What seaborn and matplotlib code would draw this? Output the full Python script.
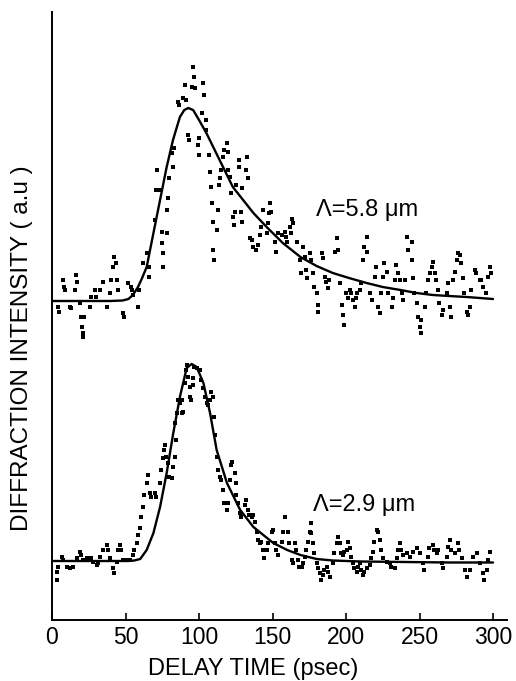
import matplotlib
matplotlib.use("Agg")
import matplotlib.pyplot as plt
import seaborn as sns
import pandas as pd

# ---------------- data (delay time in psec, intensity in arbitrary units) ----------------
# Lambda = 5.8 um : measured points
up_x = [4.3, 4.5, 7.7, 8.4, 9, 12.2, 13, 15.6, 16.3, 17, 19, 19.7, 20.4, 21, 21.3, 21.8, 25.9, 26.8,
        29.3, 30, 32.7, 34.9, 37.2, 39.5, 40.1, 41.7, 42.4, 43.5, 44.2, 44.9, 48.5, 49, 51.9, 53.7,
        54.3, 55, 58.7, 59.4, 62.1, 64.4, 65.8, 66.3, 70, 70.7, 71.2, 72, 73.5, 74.6, 75, 75.7, 75.4,
        78, 78.3, 79, 79.8, 81.4, 82, 83, 86, 86.5, 89.3, 90.5, 91, 92.7, 93, 95, 96, 96.5, 97.2, 99.5,
        99.8, 100, 101.8, 103, 103.4, 104.5, 104.8, 107, 107.3, 108.2, 108.5, 109.3, 109.8, 110.5,
        112.5, 113, 113.7, 114.3, 115, 116.5, 117, 118.8, 119.5, 119.8, 121, 121.8, 123.3, 124,
        124.7, 125.3, 127, 127.5, 128.3, 129, 129.5, 132, 132.5, 133.5, 134.7, 135.8, 136.5, 139,
        139.8, 141.5, 142.3, 143.7, 146, 146.8, 147.5, 148.3, 149, 151.7, 152.5, 154, 156.3, 158.5,
        159.3, 160, 162, 162.6, 163.3, 164, 166.5, 168.7, 169.5, 171, 171.8, 173, 173.7, 175.5, 176.2,
        177.7, 178.3, 180, 180.6, 181, 183.5, 184, 185.7, 186.3, 188, 188.5, 192.5, 193.7, 194.5, 196,
        197, 197.8, 198.6, 200, 201.5, 202.7, 203.4, 204.5, 206, 206.8, 207.8, 209.5, 210, 211.8,
        212.5, 214, 214.5, 216.3, 217.8, 219.7, 220.5, 222, 223, 224, 225.4, 226, 227.7, 228.5, 231,
        232, 233.3, 234, 235.6, 236.5, 238, 239, 240, 241.3, 242, 244.7, 245, 245.8, 246.5, 248, 249,
        250.3, 251, 251.2, 253.7, 254.5, 256, 257, 258.3, 259.3, 260.5, 261, 262.8, 263.5, 265, 265.8,
        268.5, 269.5, 270.7, 271.5, 273, 274, 275.3, 276, 277.6, 278.5, 279.8, 280.5, 282, 283, 284.4,
        285, 287.8, 288.5, 291, 292, 293.4, 295.5, 296.8, 298, 298.8]
up_y = [313, 308, 340, 333, 330, 313, 312, 330, 345, 338, 317, 303, 293, 287, 283, 303, 313, 323,
        330, 323, 330, 338, 313, 327, 340, 353, 363, 357, 340, 330, 307, 303, 337, 333,
        330, 325, 313, 330, 357, 367, 343, 353, 400, 430, 450, 430, 430, 388, 377, 367, 353,
        387, 410, 422, 442, 467, 453, 472, 518, 515, 522, 535, 520, 485, 480, 533, 553, 543, 532, 475,
        465, 482, 507, 537, 525, 500, 490, 465, 448, 433, 417, 398, 370, 360,
        390, 410, 435, 442, 450, 463, 470, 477, 468, 450, 443, 427, 403, 395,
        408, 435, 453, 460, 408, 398, 432, 450, 463, 442, 382, 380, 373, 370,
        375, 385, 393, 410, 387, 397, 407, 417, 408, 378, 368, 387, 385, 388,
        383, 378, 393, 387, 401, 397, 378, 360, 347, 373, 363, 350, 342, 367, 360,
        347, 333, 327, 315, 308, 367, 362, 343, 338, 332, 340, 368, 382, 370, 337,
        315, 305, 295, 327, 322, 330, 327, 320, 313, 322, 327, 330, 337, 360,
        373, 383, 368, 327, 320, 343, 353, 313, 307, 327, 343, 357, 348, 327, 313,
        322, 340, 355, 347, 340, 327, 320, 340, 383, 370, 378, 360, 342, 327, 317, 303,
        293, 287, 300, 313, 327, 340, 347, 353, 358, 347, 340, 330, 317, 305, 310,
        327, 337, 313, 303, 340, 348, 360, 367, 365, 357, 342, 327, 308, 305, 313,
        330, 350, 347, 340, 340, 333, 327, 343, 353, 347]

# Lambda = 5.8 um : fitted curve
up_fit_x = [0, 20, 40, 48, 52, 55, 58.5, 61, 64.4, 69, 73.5, 78, 82.3, 87, 90, 92.7, 96, 100, 105,
            114, 123, 137, 146, 157, 169, 180, 191, 202, 214, 225, 237, 248, 259, 270, 282, 291, 300]
up_fit_y = [319, 319, 319, 319.5, 321, 325, 333, 341, 353, 387, 420, 453, 480, 503, 510, 512, 510,
            500, 487, 460, 433, 407, 393, 377, 363, 354, 347, 342, 337, 333, 330, 327, 325, 324,
            323, 322, 321]

# Lambda = 2.9 um : measured points
lo_x = [3.2, 3.4, 4, 6.6, 7.3, 10, 12.2, 14.5, 16.8, 19, 19.7, 21.3, 23.6, 25.9, 26.6, 28, 30.4,
        31, 32.7, 34.9, 37.2, 37.9, 39.5, 41.7, 42.4, 44, 44.7, 46.3, 47, 48.5, 50.8, 53, 55.3,
        56, 57.6, 58.3, 59.9, 60.6, 62.1, 62.8, 64.4, 65.1, 66.7, 67.4, 70, 70.7, 73.5, 74.2, 75.3,
        76, 76.9, 77.6, 79, 79.7, 81.4, 82, 83.7, 84.2, 84, 84.8, 86, 86.8, 88.2, 88.8, 88.6,
        90.5, 91, 91.6, 92.3, 93.9, 94, 94.5, 96, 96.2, 96.8, 98.4, 100.7, 101.5, 103, 103.8,
        105.2, 105.9, 107.5, 108.2, 109.8, 110.5, 110.9, 112, 112.7, 114.3, 115, 116.5, 117.2,
        118.8, 119.5, 121, 121.8, 122.5, 124.5, 125.2, 125.5, 126.7, 127.9, 128.6, 131.3, 132,
        133.5, 134.2, 135.8, 136.5, 138, 139.3, 140, 141.5, 142.2, 143.7, 144.4, 146, 146.7,
        149.4, 150, 151.7, 152.4, 154, 156.2, 156.9, 158.5, 160.7, 161.4, 163, 163.7, 165.3, 166,
        167.5, 168.2, 169.8, 170.5, 172, 172.7, 174.4, 175.5, 175.9, 176.3, 177.7, 178.4, 180,
        180.7, 182.3, 183, 184.6, 185.3, 186.9, 187.6, 189, 191.4, 192.1, 193.7, 194.4, 196,
        196.7, 198.2, 198.9, 200.5, 201.2, 202.7, 203.4, 205, 205.7, 207.3, 208, 209.5, 210.2,
        211.8, 212.5, 214, 216.3, 217, 218.6, 219.3, 221, 221.7, 223, 223.7, 225.4, 227.7, 230,
        230.7, 233.3, 234.5, 235.2, 236.7, 237.4, 239, 241.3, 243.5, 245.8, 248, 250.3, 252.5,
        253.2, 256, 256.7, 259.4, 260.1, 261.7, 262.4, 265, 265.7, 268.5, 269.2, 270.7, 271.4,
        274, 276.4, 277.1, 278.7, 281, 282, 284.4, 286.6, 289, 291, 293.4, 294.1, 295.7, 296.4, 298]
lo_y = [40, 48, 53, 63, 60, 53, 52, 53, 62, 68, 65, 60, 62, 60, 62, 58, 55,
        57, 63, 70, 75, 70, 62, 52, 47, 58, 70, 75, 70, 60, 60, 60, 65,
        70, 77, 85, 92, 103, 113, 125, 137, 145, 127, 123, 127, 123, 137, 150, 162,
        170, 175, 163, 157, 143, 142, 153, 163, 180, 197, 207, 220, 217, 207, 208, 220,
        237, 250, 255, 243, 233, 223, 220, 242, 235, 253, 252, 250, 240, 232, 223,
        217, 215, 220, 228, 223, 203, 185, 163, 150, 143, 140, 130, 117,
        110, 117, 140, 155, 158, 147, 137, 125, 117, 107, 103, 115, 120,
        110, 105, 103, 105, 98, 88, 80, 77, 78, 70, 62, 70, 77,
        88, 90, 77, 70, 65, 78, 88, 103, 88, 77, 60, 57, 77, 70,
        60, 53, 53, 57, 63, 70, 78, 88, 97, 87, 77, 67, 57,
        52, 47, 40, 45, 50, 53, 48, 43, 57, 67, 77, 83, 77,
        67, 65, 68, 70, 78, 72, 63, 57, 52, 48, 53, 57, 50,
        45, 48, 52, 55, 62, 68, 78, 90, 88, 80, 70, 62, 58, 57,
        53, 52, 62, 70, 77, 70, 65, 67, 63, 68, 72, 67, 57,
        50, 63, 72, 75, 70, 67, 70, 57, 52, 63, 73, 80, 70,
        67, 77, 70, 62, 50, 43, 50, 63, 67, 57, 47, 40, 50, 60, 68]

# Lambda = 2.9 um : fitted curve
lo_fit_x = [0, 20, 40, 52, 56, 60, 64.4, 69, 73.5, 78, 82.5, 87, 91.6, 95, 98.4, 103, 107.5, 112,
            119, 128, 137, 150.5, 160, 169, 180, 191, 210, 240, 270, 300]
lo_fit_y = [59, 59, 59, 59, 59.5, 61, 70, 87, 113, 147, 187, 223, 252, 256, 253, 237, 207, 170,
            137, 110, 93, 77, 70, 65, 61, 59.5, 58.5, 58, 57.5, 57.5]

x_ticks = [0, 50, 100, 150, 200, 250, 300]
labels = ["Λ=5.8 μm", "Λ=2.9 μm"]
x_label = "DELAY TIME (psec)"
y_label = "DIFFRACTION INTENSITY ( a.u )"

# ---------------- plot ----------------
sns.set_style("ticks")
plt.rcParams["font.family"] = ["Liberation Sans", "DejaVu Sans"]
plt.rcParams["text.color"] = "black"
plt.rcParams["axes.labelcolor"] = "black"
plt.rcParams["xtick.color"] = "black"

n = min(len(up_x), len(up_y))
up_df = pd.DataFrame({"t": up_x[:n], "v": up_y[:n]})
m = min(len(lo_x), len(lo_y))
lo_df = pd.DataFrame({"t": lo_x[:m], "v": lo_y[:m]})

fig = plt.figure(figsize=(5.16, 6.81), dpi=100)
ax = fig.add_axes([52 / 516, 61 / 681, 455 / 516, 608 / 681])

for df in (up_df, lo_df):
    sns.scatterplot(data=df, x="t", y="v", ax=ax, color="black", s=6, marker="s",
                    linewidth=0, legend=False)
sns.lineplot(x=up_fit_x, y=up_fit_y, ax=ax, color="black", linewidth=1.7, estimator=None)
sns.lineplot(x=lo_fit_x, y=lo_fit_y, ax=ax, color="black", linewidth=1.7, estimator=None)

ax.text(179.5, 410, labels[0], fontsize=17, ha="left", va="center", color="black")
ax.text(177.5, 115, labels[1], fontsize=17, ha="left", va="center", color="black")

ax.set_xlim(0, 309.5)
ax.set_ylim(0, 608)
ax.set_xticks(x_ticks)
ax.set_xticklabels([str(v) for v in x_ticks])
ax.set_yticks([])
sns.despine(ax=ax)
for s in ("left", "bottom"):
    ax.spines[s].set_linewidth(1.4)
    ax.spines[s].set_color("black")
ax.tick_params(axis="x", direction="in", length=5, width=1.2, labelsize=16.5, pad=4,
               colors="black")

ax.set_xlabel(x_label, fontsize=17, color="black")
ax.set_ylabel(y_label, fontsize=17.5, color="black")
ax.xaxis.set_label_coords(0.442, -0.081)
ax.xaxis.label.set_va("center")
ax.yaxis.set_label_coords(-0.066, 0.447)
ax.yaxis.label.set_va("center")

fig.savefig("out.png", dpi=100)
